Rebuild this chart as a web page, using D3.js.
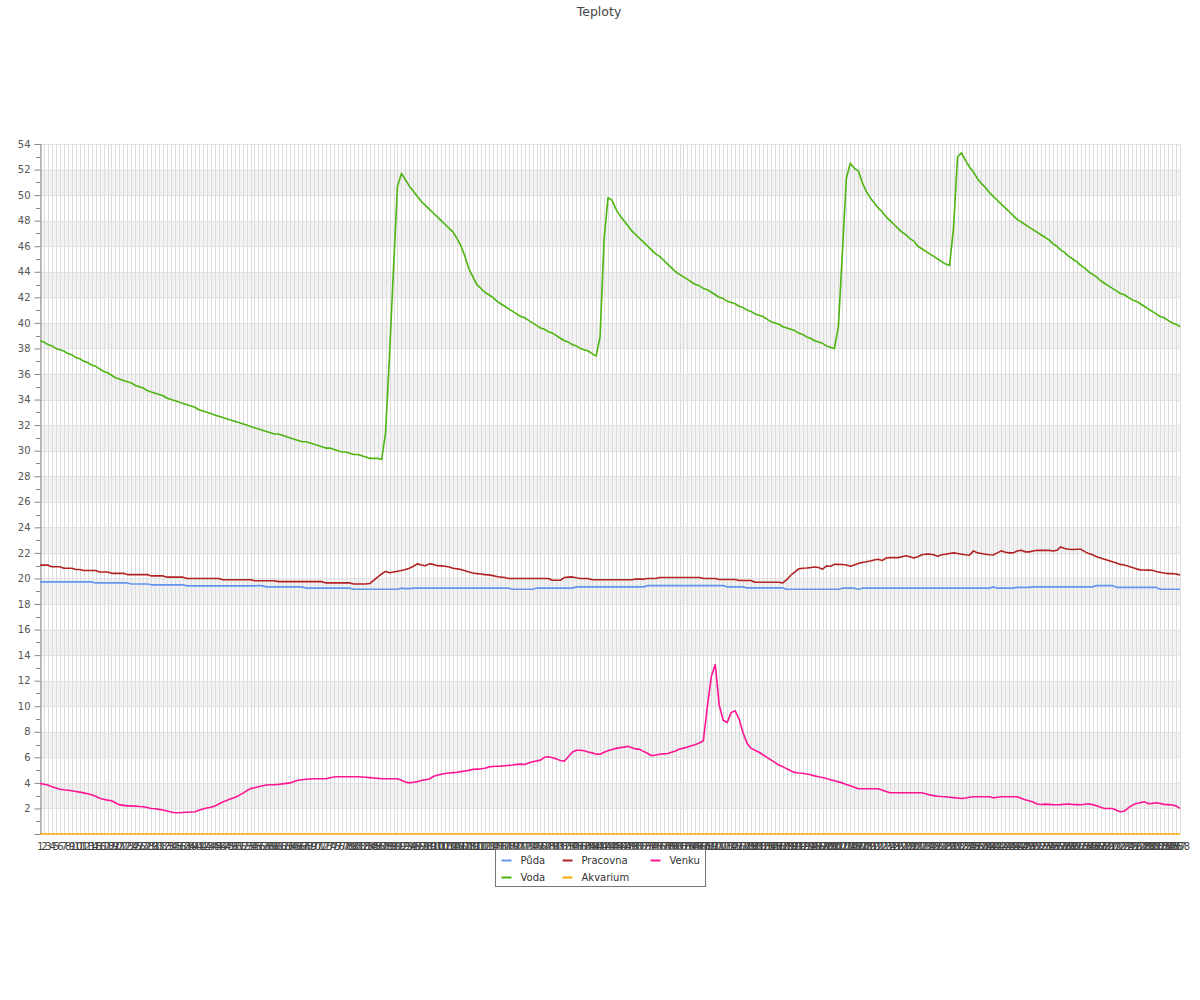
<!DOCTYPE html>
<html>
<head>
<meta charset="utf-8">
<script src="https://cdn.jsdelivr.net/npm/d3@7"></script>
<style>
  html, body { margin: 0; padding: 0; background: #fff; }
  svg { display: block; font-family: "DejaVu Sans", sans-serif; }
</style>
</head>
<body>
<svg id="chart" width="1200" height="1000"></svg>
<script>
// ---------- DATA ----------
const title = "Teploty";
const categories = d3.range(1, 289).map(String);
const seriesNames = ["Půda", "Voda", "Pracovna", "Akvarium", "Venku"];
const seriesColors = ["#6495ed", "#4cb50f", "#b22222", "#ffa500", "#ff1493"];
const yTicks = [2,4,6,8,10,12,14,16,18,20,22,24,26,28,30,32,34,36,38,40,42,44,46,48,50,52,54];

const puda = [
19.73,19.73,19.73,19.73,19.73,19.73,19.73,19.73,19.73,19.73,19.73,19.73,19.73,19.73,
19.65,19.65,19.65,19.65,19.65,19.65,19.65,19.65,19.65,
19.57,19.57,19.57,19.57,19.57,
19.5,19.5,19.5,19.5,19.5,19.5,19.5,19.5,19.5,
19.42,19.42,19.42,19.42,19.42,19.42,19.42,19.42,19.42,19.42,19.42,19.42,19.42,19.42,19.42,19.42,19.42,19.42,
19.45,19.42,
19.34,19.34,19.34,19.34,19.34,19.34,19.34,19.34,19.34,19.34,
19.24,19.24,19.24,19.24,19.24,19.24,19.24,19.24,19.24,19.24,19.24,19.24,
19.16,19.16,19.16,19.16,19.16,19.16,19.16,19.16,19.16,19.16,19.16,19.16,
19.24,19.2,19.2,
19.24,19.24,19.24,19.24,19.24,19.24,19.24,19.24,19.24,19.24,19.24,19.24,19.24,19.24,19.24,19.24,19.24,19.24,19.24,19.24,19.24,19.24,19.24,19.24,19.24,
19.16,19.16,19.16,19.16,19.16,19.16,
19.24,19.24,19.24,19.24,19.24,19.24,19.24,19.24,19.24,19.24,
19.34,19.34,19.34,19.34,19.34,19.34,19.34,19.34,19.34,19.34,19.34,19.34,19.34,19.34,19.34,19.34,19.34,19.34,
19.44,19.44,19.44,19.44,19.44,19.44,19.44,19.44,19.44,19.44,19.44,19.44,19.44,19.44,19.44,19.44,19.44,19.44,19.44,19.44,
19.34,19.34,19.34,19.34,19.34,
19.26,19.26,19.26,19.26,19.26,19.26,19.26,19.26,19.26,19.26,
19.16,19.16,19.16,19.16,19.16,19.16,19.16,19.16,19.16,19.16,19.16,19.16,19.16,19.16,
19.24,19.24,19.24,19.24,
19.16,
19.24,19.24,19.24,19.24,19.24,19.24,19.24,19.24,19.24,19.24,19.24,19.24,19.24,19.24,19.24,19.24,19.24,19.24,19.24,19.24,19.24,19.24,19.24,19.24,19.24,19.24,19.24,19.24,19.24,19.24,19.24,19.24,19.24,
19.34,
19.24,19.24,19.24,19.24,19.24,
19.3,19.3,19.3,19.3,
19.34,19.34,19.34,19.34,19.34,19.34,19.34,19.34,19.34,19.34,19.34,19.34,19.34,19.34,19.34,19.34,
19.44,19.44,19.44,19.44,19.44,
19.3,19.3,19.3,19.3,19.3,19.3,19.3,19.3,19.3,19.3,19.3,
19.16,19.16,19.16,19.16,19.16,19.16
];

const voda = [
38.6,38.5,38.3,38.2,38.0,37.9,37.8,37.6,37.5,37.3,37.2,37.0,36.9,36.7,36.6,36.4,
36.2,36.1,35.9,35.7,35.6,35.5,35.4,35.3,35.1,35.0,34.9,34.7,34.6,34.5,34.4,34.3,34.1,34.0,33.9,33.8,
33.7,33.6,33.5,33.4,33.2,33.1,33.0,32.9,32.8,32.7,32.6,32.5,32.4,32.3,32.2,32.1,32.0,
31.9,31.8,31.7,31.6,31.5,31.4,31.3,31.3,31.2,31.1,31.0,30.9,30.8,30.7,30.7,30.6,30.5,
30.4,30.3,30.2,30.2,30.1,30.0,29.9,29.9,29.8,29.7,29.7,29.6,29.5,29.4,29.4,29.4,29.3,
31.4,37.5,44.3,50.7,51.7,51.2,50.7,50.3,49.9,49.5,49.2,48.9,48.6,48.3,
48.0,47.7,47.4,47.1,46.6,46.0,45.2,44.2,43.6,43.0,42.7,42.4,42.2,42.0,41.7,41.5,41.3,41.1,40.9,40.7,
40.5,40.4,40.2,40.0,39.8,39.6,39.5,39.3,39.2,39.0,38.8,38.6,38.5,38.3,38.2,38.0,37.9,37.8,37.6,37.4,
38.9,46.5,49.8,49.6,48.9,48.4,48.0,47.6,47.2,46.9,46.6,46.3,46.0,45.7,45.4,45.2,44.9,44.6,44.3,44.0,
43.8,43.6,43.4,43.2,43.0,42.9,42.7,42.6,42.4,42.2,42.0,41.9,41.7,41.6,41.5,41.3,41.2,41.0,40.9,40.7,
40.6,40.5,40.3,40.1,40.0,39.9,39.7,39.6,39.5,39.4,39.2,39.1,38.9,38.8,38.6,38.5,38.4,38.2,38.1,38.0,
39.7,45.5,51.3,52.5,52.1,51.9,51.0,50.3,49.8,49.4,49.0,48.7,48.3,48.0,47.7,47.4,47.1,46.9,46.6,46.4,
46.0,45.8,45.6,45.4,45.2,45.0,44.8,44.6,44.5,47.5,53.0,53.3,52.7,52.2,51.8,51.3,50.9,50.6,50.2,49.9,
49.6,49.3,49.0,48.7,48.4,48.1,47.9,47.7,47.5,47.3,47.1,46.9,46.7,46.5,46.2,46.0,45.7,45.5,45.2,45.0,
44.8,44.5,44.3,44.0,43.8,43.6,43.3,43.1,42.9,42.7,42.5,42.3,42.2,42.0,41.8,41.7,41.5,41.3,41.1,40.9,
40.7,40.5,40.4,40.2,40.0,39.9,39.7
];

const pracovna = [
21.04,21.04,21.04,20.92,20.92,20.92,20.8,20.8,20.8,20.7,20.7,
20.62,20.62,20.62,20.62,20.5,20.5,20.5,20.4,20.4,20.4,20.4,
20.3,20.3,20.3,20.3,20.3,20.3,20.2,20.2,20.2,20.2,
20.1,20.1,20.1,20.1,20.1,
20.0,20.0,20.0,20.0,20.0,20.0,20.0,20.0,20.0,
19.9,19.9,19.9,19.9,19.9,19.9,19.9,19.9,
19.82,19.82,19.82,19.82,19.82,19.82,
19.75,19.75,19.75,19.75,19.75,19.75,19.75,19.75,19.75,19.75,19.75,19.75,
19.65,19.65,19.65,19.65,19.65,19.65,19.65,
19.57,19.57,19.57,19.57,
19.6,19.85,20.1,20.35,20.55,20.44,20.5,20.56,20.62,20.7,20.8,20.95,21.14,21.05,21.0,21.14,21.1,
21.0,20.98,20.96,20.9,20.8,20.75,20.7,20.6,20.5,20.42,20.38,20.35,20.3,20.28,20.22,20.15,20.1,20.07,
20.0,20.0,20.0,20.0,20.0,20.0,20.0,20.0,20.0,20.0,20.0,
19.86,19.86,19.86,
20.07,20.1,20.12,20.05,
20.0,20.0,20.0,
19.9,19.9,19.9,19.9,19.9,19.9,19.9,19.9,19.9,19.9,19.9,
19.95,19.95,19.95,
20.0,20.0,20.0,
20.07,20.07,20.07,20.07,20.07,20.07,20.07,20.07,20.07,20.07,20.07,
20.0,20.0,20.0,20.0,
19.92,19.92,19.92,19.92,19.92,
19.84,19.84,19.84,19.84,
19.7,19.7,19.7,19.7,19.7,19.7,19.7,
19.65,19.9,20.25,20.5,20.75,20.8,20.82,20.85,20.9,20.85,20.72,20.98,20.95,
21.1,21.1,21.09,21.05,20.96,21.05,21.17,21.25,21.3,21.37,
21.45,21.5,21.4,21.6,21.63,21.63,21.63,21.7,21.77,21.7,
21.6,21.7,21.85,21.9,21.9,21.85,21.74,21.85,21.9,21.95,
22.0,21.95,21.9,21.85,21.82,22.16,22.0,21.95,21.9,21.85,
21.84,22.0,22.16,22.05,22.0,22.0,22.15,22.2,22.08,22.08,
22.15,22.2,22.2,22.2,22.2,22.15,22.2,22.47,22.35,22.28,
22.26,22.28,22.29,22.1,21.95,21.85,21.7,21.6,21.5,21.4,
21.3,21.2,21.1,21.05,20.95,20.85,20.75,20.67,20.66,20.65,
20.64,20.55,20.48,20.42,20.38,20.38,20.35,20.28
];

const akvarium = [
0,0,0,0,0,0,0,0,0,0,0,0,0,0,0,0,0,0,0,0,0,0,0,0,
0,0,0,0,0,0,0,0,0,0,0,0,0,0,0,0,0,0,0,0,0,0,0,0,
0,0,0,0,0,0,0,0,0,0,0,0,0,0,0,0,0,0,0,0,0,0,0,0,
0,0,0,0,0,0,0,0,0,0,0,0,0,0,0,0,0,0,0,0,0,0,0,0,
0,0,0,0,0,0,0,0,0,0,0,0,0,0,0,0,0,0,0,0,0,0,0,0,
0,0,0,0,0,0,0,0,0,0,0,0,0,0,0,0,0,0,0,0,0,0,0,0,
0,0,0,0,0,0,0,0,0,0,0,0,0,0,0,0,0,0,0,0,0,0,0,0,
0,0,0,0,0,0,0,0,0,0,0,0,0,0,0,0,0,0,0,0,0,0,0,0,
0,0,0,0,0,0,0,0,0,0,0,0,0,0,0,0,0,0,0,0,0,0,0,0,
0,0,0,0,0,0,0,0,0,0,0,0,0,0,0,0,0,0,0,0,0,0,0,0,
0,0,0,0,0,0,0,0,0,0,0,0,0,0,0,0,0,0,0,0,0,0,0,0,
0,0,0,0,0,0,0,0,0,0,0,0,0,0,0,0,0,0,0,0,0,0,0,0
];

const venku = [
3.96,3.9,3.83,3.7,3.6,3.5,3.46,3.43,3.38,3.33,
3.28,3.22,3.15,3.07,2.95,2.8,2.72,2.65,2.6,2.45,
2.28,2.24,2.2,2.2,2.18,2.15,2.13,2.08,2.0,1.97,
1.93,1.88,1.8,1.72,1.66,1.66,1.68,1.7,1.72,1.74,
1.85,1.96,2.03,2.1,2.18,2.35,2.5,2.62,2.75,2.86,
3.0,3.18,3.38,3.55,3.62,3.7,3.78,3.83,3.85,3.86,
3.88,3.92,3.96,4.0,4.1,4.2,4.25,4.28,4.3,4.32,
4.32,4.32,4.32,4.4,4.46,4.48,4.48,4.48,4.48,4.48,
4.48,4.46,4.44,4.41,4.38,4.35,4.32,4.32,4.32,4.32,
4.32,4.2,4.06,4.0,4.05,4.1,4.18,4.25,4.3,4.5,
4.6,4.68,4.74,4.77,4.8,4.83,4.88,4.93,4.98,5.06,
5.08,5.1,5.15,5.25,5.28,5.3,5.31,5.34,5.37,5.4,
5.45,5.47,5.44,5.55,5.66,5.72,5.78,6.0,6.05,5.97,
5.88,5.75,5.7,6.05,6.4,6.56,6.55,6.52,6.42,6.35,
6.25,6.24,6.4,6.52,6.62,6.7,6.76,6.8,6.86,6.75,
6.66,6.62,6.45,6.3,6.12,6.18,6.24,6.27,6.3,6.4,
6.49,6.65,6.72,6.8,6.9,7.0,7.12,7.3,9.95,12.3,
13.26,10.08,8.9,8.73,9.5,9.64,9.0,7.9,7.1,6.72,
6.55,6.4,6.2,6.0,5.8,5.6,5.4,5.27,5.1,4.95,
4.82,4.78,4.75,4.7,4.63,4.55,4.48,4.42,4.35,4.25,
4.17,4.08,4.0,3.88,3.77,3.65,3.54,3.54,3.54,3.54,
3.54,3.54,3.45,3.32,3.23,3.23,3.23,3.23,3.23,3.23,
3.23,3.23,3.23,3.15,3.06,3.0,2.96,2.93,2.91,2.88,
2.85,2.82,2.78,2.82,2.88,2.91,2.91,2.91,2.91,2.91,
2.83,2.87,2.91,2.91,2.91,2.91,2.91,2.8,2.68,2.6,
2.5,2.35,2.31,2.34,2.32,2.3,2.29,2.3,2.33,2.34,
2.31,2.3,2.29,2.33,2.37,2.3,2.21,2.1,2.0,2.0,
2.0,1.86,1.74,1.79,2.05,2.26,2.38,2.45,2.52,2.38,
2.4,2.44,2.38,2.32,2.3,2.27,2.2,2.0
];

const seriesValues = [puda, voda, pracovna, akvarium, venku];

// ---------- CHART ----------
const svg = d3.select("#chart");
const plotL = 40, plotR = 1180, plotT = 144, plotB = 834;

const x = d3.scalePoint().domain(categories).range([plotL, plotR]);
const y = d3.scaleLinear().domain([0, 54]).range([plotB, plotT]);

// title
svg.append("text").attr("x", 599).attr("y", 16).attr("text-anchor", "middle")
  .attr("font-size", "12.5px").attr("fill", "#444").text(title);

// alternating bands
const bands = svg.append("g");
yTicks.filter(v => v % 4 === 2 && v < 54).forEach(v => {
  bands.append("rect").attr("x", plotL).attr("width", plotR - plotL)
    .attr("y", y(v + 2)).attr("height", y(v) - y(v + 2)).attr("fill", "#f2f2f2");
});

// vertical grid lines
svg.append("g").selectAll("line").data(categories).join("line")
  .attr("x1", d => Math.round(x(d)) + 0.5).attr("x2", d => Math.round(x(d)) + 0.5)
  .attr("y1", plotT).attr("y2", plotB)
  .attr("stroke", "#dcdcdc").attr("stroke-width", 1);

// horizontal grid lines
svg.append("g").selectAll("line").data(yTicks).join("line")
  .attr("x1", plotL).attr("x2", plotR)
  .attr("y1", d => Math.round(y(d)) + 0.5).attr("y2", d => Math.round(y(d)) + 0.5)
  .attr("stroke", "#e2e2e2").attr("stroke-width", 1);

// y axis
const yAxis = d3.axisLeft(y).tickValues(yTicks).tickSize(6).tickPadding(4);
const gy = svg.append("g").attr("transform", `translate(${plotL + 0.5},0)`).call(yAxis);
gy.select(".domain").attr("stroke", "#888");
gy.selectAll(".tick line").attr("stroke", "#888");
gy.selectAll(".tick text").attr("fill", "#555").attr("font-size", "10px")
  .attr("font-family", "DejaVu Sans, sans-serif");
// minor ticks
const minor = d3.range(1, 54, 2);
svg.append("g").selectAll("line").data(minor).join("line")
  .attr("x1", plotL - 4).attr("x2", plotL)
  .attr("y1", d => Math.round(y(d)) + 0.5).attr("y2", d => Math.round(y(d)) + 0.5)
  .attr("stroke", "#888");

// x axis labels
const xAxis = d3.axisBottom(x).tickSize(0).tickPadding(9);
const gx = svg.append("g").attr("transform", `translate(0,${plotB})`).call(xAxis);
gx.select(".domain").remove();
gx.selectAll(".tick text").attr("fill", "#444").attr("font-size", "10px")
  .attr("font-family", "DejaVu Sans, sans-serif");

// lines
const line = d3.line().x((d, i) => x(categories[i])).y(d => y(d));
seriesValues.forEach((vals, k) => {
  svg.append("path").datum(vals).attr("d", line)
    .attr("fill", "none").attr("stroke", seriesColors[k])
    .attr("stroke-width", 1.6).attr("stroke-linejoin", "round");
});

// legend
const lg = svg.append("g").attr("transform", "translate(495.5,849.5)");
lg.append("rect").attr("width", 210).attr("height", 37)
  .attr("fill", "#fff").attr("stroke", "#777");
const colX = [6, 67, 155];
const rowY = [11, 28];
seriesNames.forEach((name, k) => {
  const col = Math.floor(k / 2), row = k % 2;
  const g = lg.append("g").attr("transform", `translate(${colX[col]},${rowY[row]})`);
  g.append("line").attr("x1", 0).attr("x2", 10).attr("y1", 0).attr("y2", 0)
    .attr("stroke", seriesColors[k]).attr("stroke-width", 2);
  g.append("text").attr("x", 19).attr("y", 3.5).attr("font-size", "10px")
    .attr("fill", "#333").text(name);
});
</script>
</body>
</html>
